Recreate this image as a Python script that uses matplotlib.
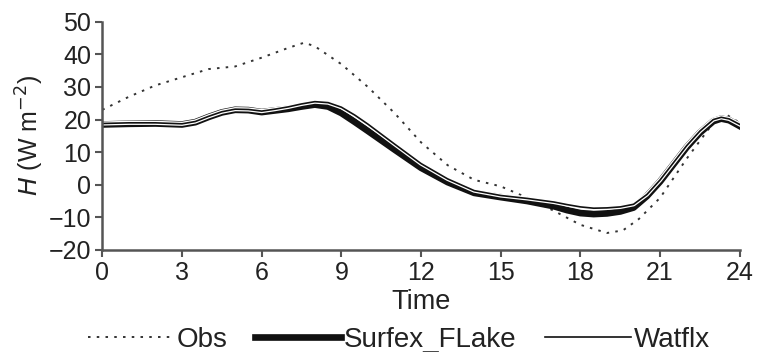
import matplotlib.pyplot as plt
import numpy as np

plt.rcParams['font.family'] = ['Liberation Sans', 'DejaVu Sans']

# values
obs_t = [0, 1, 2, 3, 4, 5, 6, 7, 7.6, 8, 9, 10, 11, 12, 13, 14, 15, 16, 17, 18, 19, 19.6, 20.2, 21, 22, 23, 23.5, 24]
obs_h = [23, 27, 30.5, 33, 35.5, 36.3, 39, 42, 43.6, 42.5, 37, 30, 22, 13, 6, 1.5, -0.5, -4, -8, -12.3, -14.8, -14, -10.5, -4, 8, 19, 21.5, 19]

mod_t = [0, 1, 2, 3, 3.5, 4, 4.5, 5, 5.5, 6, 6.5, 7, 7.5, 8, 8.5, 9, 9.5, 10, 11, 12, 13, 14, 15, 16, 17, 17.5, 18, 18.5, 19, 19.5, 20, 20.5, 21, 22, 22.5, 23, 23.3, 23.6, 24]
surfex_h = [18.5, 18.7, 18.8, 18.5, 19.2, 20.8, 22.2, 23, 22.9, 22.3, 22.8, 23.3, 24, 24.6, 24, 22, 19.3, 16.5, 10.8, 5.2, 0.8, -2.5, -3.8, -5, -6.6, -7.8, -8.7, -9, -8.8, -8.2, -7, -3.5, 1, 11.5, 16, 19.5, 20.3, 19.8, 18]
watflx_h = [18.8, 19, 19, 18.7, 19.4, 21, 22.4, 23.2, 23.1, 22.6, 23.2, 23.9, 24.8, 25.5, 25.2, 23.8, 21.4, 18.6, 12.5, 6.5, 1.8, -1.8, -3.3, -4.2, -5.3, -6.1, -6.8, -7.2, -7.1, -6.8, -6, -3, 1.5, 12, 16.5, 20, 20.7, 20.2, 18.5]

xticks = [0, 3, 6, 9, 12, 15, 18, 21, 24]
yticks = [-20, -10, 0, 10, 20, 30, 40, 50]

fig = plt.figure(figsize=(7.58, 3.52), dpi=100)
ax = fig.add_axes([0.135, 0.29, 0.841, 0.648])

grey = '#333333'
ax.plot(obs_t, obs_h, color=grey, lw=1.4, linestyle=(0, (1.3, 3.2)), label='Obs')
ax.plot(mod_t, surfex_h, color='#111111', lw=4.8, solid_joinstyle='round', label='Surfex_FLake')
ax.plot(mod_t, watflx_h, color='white', lw=3.0, solid_joinstyle='round')
ax.plot(mod_t, watflx_h, color='#111111', lw=1.2, solid_joinstyle='round', label='Watflx')

ax.set_xlim(0, 24)
ax.set_ylim(-20, 50)
ax.set_xticks(xticks)
ax.set_yticks(yticks)
ax.set_yticklabels([str(v).replace('-', '\u2212') for v in yticks])
ax.tick_params(labelsize=18, color='#555555', width=1.5, length=5, pad=3, labelcolor='#222222')
for s in ['top', 'right']:
    ax.spines[s].set_visible(False)
for s in ['left', 'bottom']:
    ax.spines[s].set_color('#555555')
    ax.spines[s].set_linewidth(1.8)

ax.set_xlabel('Time', fontsize=19.5, color='#222222', labelpad=3)
ax.set_ylabel('$H$ (W m$^{-2}$)', fontsize=18, color='#222222', labelpad=2)

fig.legend(loc='center', bbox_to_anchor=(0.526, 0.034), ncol=3, frameon=False,
           fontsize=20, handlelength=3.1, columnspacing=1.0, handletextpad=0.1,
           labelcolor='#222222')

fig.savefig('out.png', dpi=100)
